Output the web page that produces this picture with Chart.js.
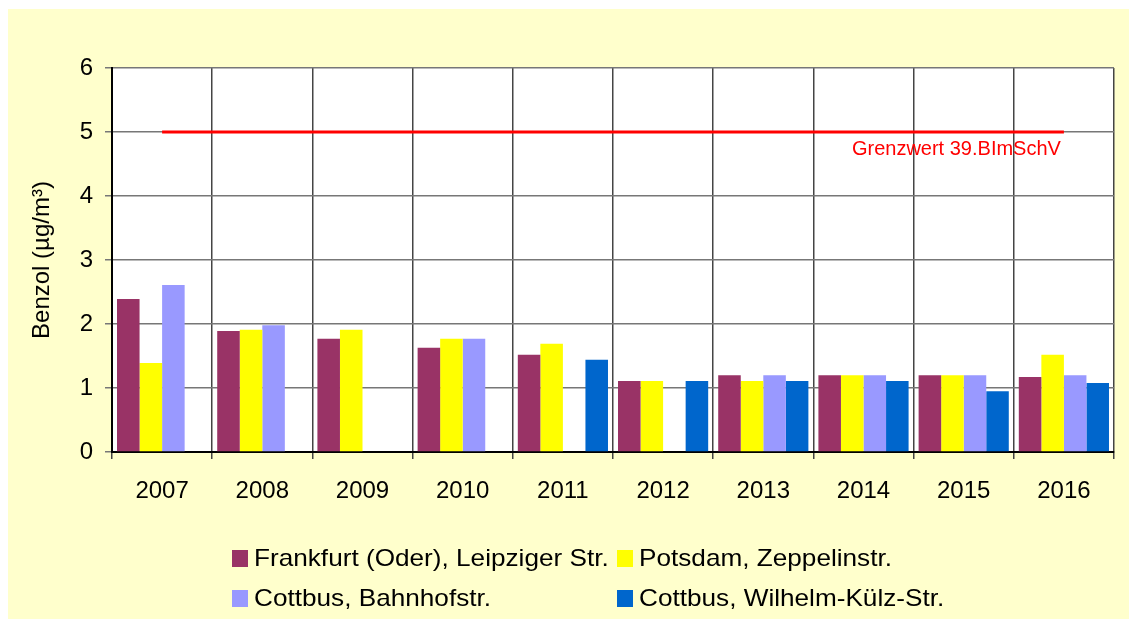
<!DOCTYPE html>
<html>
<head>
<meta charset="utf-8">
<script src="https://cdn.jsdelivr.net/npm/chart.js@4"></script>
<style>
  html, body { margin: 0; padding: 0; background: #fff; }
  #wrap { width: 1129px; height: 619px; }
</style>
</head>
<body>
<div id="wrap"><canvas id="benzolChart" width="1129" height="619"></canvas></div>
<script>
var years = ['2007', '2008', '2009', '2010', '2011', '2012', '2013', '2014', '2015', '2016'];
var frankfurt = [2.39, 1.89, 1.77, 1.63, 1.52, 1.11, 1.2, 1.2, 1.2, 1.17];
var potsdam = [1.39, 1.91, 1.91, 1.77, 1.69, 1.11, 1.11, 1.2, 1.2, 1.52];
var bahnhofstr = [2.61, 1.98, null, 1.77, null, null, 1.2, 1.2, 1.2, 1.2];
var kuelzStr = [null, null, null, null, 1.44, 1.11, 1.11, 1.11, 0.95, 1.08];
var grenzwert = [5, 5, 5, 5, 5, 5, 5, 5, 5, 5];
var yTicks = [0, 1, 2, 3, 4, 5, 6];

var font = 'Liberation Sans, Arial, sans-serif';

// yellow panel + white plot area
var background = {
    id: 'background',
    beforeDraw: function(chart) {
        var c = chart.ctx, a = chart.chartArea;
        c.save();
        c.fillStyle = '#FFFFCC';
        c.fillRect(8, 9, chart.width - 8, chart.height - 9);
        c.fillStyle = '#FFFFFF';
        c.fillRect(a.left, a.top, a.right - a.left, a.bottom - a.top);
        c.restore();
    }
};

// limit label and two-column legend
var extras = {
    id: 'extras',
    afterDraw: function(chart) {
        var c = chart.ctx;
        var meta = chart.getDatasetMeta(4);
        var last = meta.data[meta.data.length - 1];
        c.save();
        c.fillStyle = '#FF0000';
        c.font = '20px ' + font;
        c.textAlign = 'right';
        c.textBaseline = 'middle';
        c.fillText('Grenzwert 39.BImSchV', last.x - 3, last.y + 17);

        var cols = [232, 617], rows = [558, 598];
        c.font = '24px ' + font;
        c.textAlign = 'left';
        for (var i = 0; i < 4; i++) {
            var ds = chart.data.datasets[i];
            var x = cols[i % 2], y = rows[Math.floor(i / 2)];
            c.fillStyle = ds.backgroundColor;
            c.fillRect(x, y - 8, 16, 17);
            c.fillStyle = '#000';
            c.save();
            c.translate(x + 22, y + 1);
            c.scale(1.09, 1);
            c.fillText(ds.label, 0, 0);
            c.restore();
        }
        c.restore();
    }
};

var ctx = document.getElementById('benzolChart').getContext('2d');
var benzolChart = new Chart(ctx, {
    type: 'bar',
    data: {
        labels: years,
        datasets: [
            { label: 'Frankfurt (Oder), Leipziger Str.', data: frankfurt, backgroundColor: '#993366', order: 1 },
            { label: 'Potsdam, Zeppelinstr.', data: potsdam, backgroundColor: '#FFFF00', order: 1 },
            { label: 'Cottbus, Bahnhofstr.', data: bahnhofstr, backgroundColor: '#9999FF', order: 1 },
            { label: 'Cottbus, Wilhelm-Külz-Str.', data: kuelzStr, backgroundColor: '#0066CC', order: 1 },
            {
                type: 'line', label: 'Grenzwert', data: grenzwert,
                borderColor: '#FF0000', borderWidth: 3, pointRadius: 0, order: 0
            }
        ]
    },
    options: {
        responsive: false,
        animation: false,
        layout: { padding: { left: 28, top: 68, right: 15, bottom: 107 } },
        categoryPercentage: 0.9,
        barPercentage: 1.0,
        plugins: {
            legend: { display: false },
            tooltip: { enabled: false }
        },
        scales: {
            x: {
                grid: { color: '#444', lineWidth: 1.5, tickLength: 7, offset: true },
                border: { color: '#000', width: 2 },
                ticks: { color: '#000', font: { family: font, size: 24 }, padding: 18 },
                afterFit: function(s) { s.height = 60; }
            },
            y: {
                min: 0,
                max: 6,
                afterBuildTicks: function(s) { s.ticks = yTicks.map(function(v) { return { value: v }; }); },
                grid: { color: '#777', lineWidth: 1.5, tickLength: 7 },
                border: { color: '#000', width: 2 },
                ticks: { color: '#000', font: { family: font, size: 24 }, padding: 12 },
                title: {
                    display: true,
                    text: 'Benzol (µg/m³)',
                    color: '#000',
                    font: { family: font, size: 24 },
                    padding: { top: 0, bottom: 0 }
                },
                afterFit: function(s) { s.width = 84; }
            }
        }
    },
    plugins: [background, extras]
});
</script>
</body>
</html>
